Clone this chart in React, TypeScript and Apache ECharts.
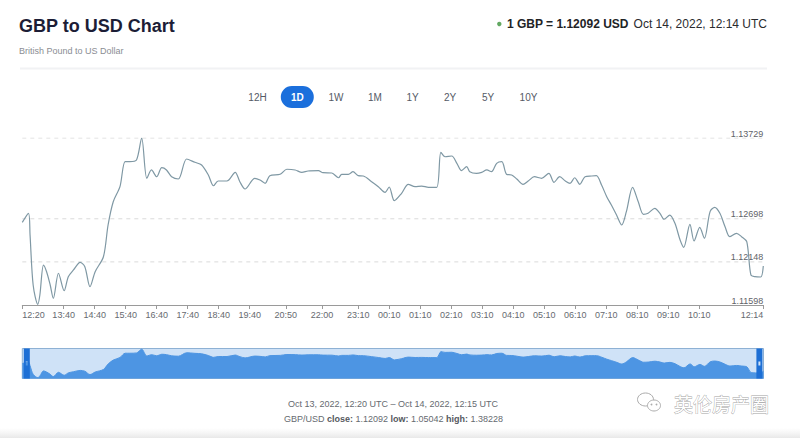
import React, { useEffect, useRef } from "react";
import * as echarts from "echarts";

// ---------- data ----------
const pointTimes = [
  "12:20","12:32","12:35","12:41","12:50","12:54","13:01","13:07","13:14","13:20",
  "13:30","13:41","13:49","13:59","14:12","14:21","14:31","14:41","14:57","15:06",
  "15:16","15:29","15:39","15:48","16:01","16:11","16:21","16:30","16:40","16:50",
  "16:59","17:09","17:22","17:38","17:54","18:07","18:20","18:30","18:39","18:56",
  "19:12","19:21","19:31","19:50","20:00","20:10","20:19","20:39","20:52","21:08",
  "21:21","21:33","21:53","22:02","22:19","22:32","22:38","22:51","23:00","23:10",
  "23:20","23:36","23:49","00:02","00:10","00:20","00:34","00:47","01:00","01:13",
  "01:26","01:42","01:50","01:58","02:11","02:21","02:30","02:40","02:46","02:59",
  "03:09","03:19","03:28","03:38","03:48","03:57","04:07","04:17","04:29","04:39",
  "04:51","05:05","05:19","05:29","05:40","05:51","06:00","06:09","06:19","06:29",
  "06:42","06:51","07:01","07:11","07:20","07:30","07:40","07:49","08:01","08:12",
  "08:22","08:31","08:44","08:54","09:02","09:13","09:23","09:33","09:40","09:52",
  "10:00","10:11","10:20","10:31","10:40","10:50","11:00","11:09","11:22","11:32",
  "11:42","11:50","11:58","12:09","12:14"
];
const pointRates = [
  1.12653,1.12768,1.12491,1.11853,1.11607,1.11726,1.12108,1.12023,1.11853,1.11683,
  1.12003,1.11780,1.11959,1.12045,1.12143,1.12087,1.11832,1.12023,1.12214,1.12619,
  1.12916,1.13108,1.13427,1.13427,1.13448,1.13729,1.13215,1.13321,1.13235,1.13350,
  1.13321,1.13235,1.13206,1.13461,1.13419,1.13384,1.13257,1.13120,1.13180,1.13180,
  1.13291,1.13171,1.13078,1.13215,1.13193,1.13151,1.13248,1.13266,1.13330,1.13321,
  1.13291,1.13308,1.13312,1.13286,1.13282,1.13222,1.13266,1.13266,1.13299,1.13248,
  1.13244,1.13171,1.13108,1.13036,1.13104,1.12929,1.13023,1.13138,1.13108,1.13116,
  1.13100,1.13100,1.13546,1.13490,1.13499,1.13406,1.13312,1.13363,1.13299,1.13278,
  1.13291,1.13321,1.13299,1.13406,1.13427,1.13266,1.13257,1.13206,1.13138,1.13180,
  1.13235,1.13215,1.13278,1.13164,1.13235,1.13180,1.13151,1.13222,1.13138,1.13235,
  1.13244,1.13248,1.13129,1.12980,1.12874,1.12746,1.12619,1.12789,1.13100,1.12916,
  1.12755,1.12768,1.12832,1.12768,1.12692,1.12746,1.12640,1.12427,1.12334,1.12628,
  1.12415,1.12589,1.12449,1.12789,1.12845,1.12768,1.12597,1.12470,1.12513,1.12470,
  1.12406,1.11981,1.11959,1.11955,1.12096
];
const xTickLabels = [
  "12:20","13:40","14:40","15:40","16:40","17:40","18:40","19:40","20:50","22:00",
  "23:10","00:10","01:10","02:10","03:10","04:10","05:10","06:10","07:10","08:10",
  "09:10","10:10","12:14"
];
const yTickValues = [1.11598, 1.12148, 1.12698, 1.13729];
const periodButtons = ["12H", "1D", "1W", "1M", "1Y", "2Y", "5Y", "10Y"];
const activePeriod = "1D";
const titleText = "GBP to USD Chart";
const subtitleText = "British Pound to US Dollar";
const quoteText = "1 GBP = 1.12092 USD";
const quoteTime = "Oct 14, 2022, 12:14 UTC";
const rangeText = "Oct 13, 2022, 12:20 UTC \u2013 Oct 14, 2022, 12:15 UTC";
const statsText = "GBP/USD {b|close:} 1.12092 {b|low:} 1.05042 {b|high:} 1.38228";
const watermarkText = "英伦房产圈";

// ---------- helpers ----------
const START_MIN = 12 * 60 + 20;
function toMinutes(t: string): number {
  const [h, m] = t.split(":").map(Number);
  let v = h * 60 + m - START_MIN;
  if (v < 0) v += 1440;
  return v;
}
const seriesData = pointTimes.map((t, i) => [toMinutes(t), pointRates[i]]);
const xTickValues = xTickLabels.map(toMinutes);
const xMax = toMinutes(pointTimes[pointTimes.length - 1]);

// ---------- layout ----------
const FONT = '"Liberation Sans", Arial, Helvetica, sans-serif';
const buttonCenters = [257.5, 297.3, 336, 375, 412.5, 450, 488, 528.5];
const plot = { left: 22.3, right: 36.7, top: 138, height: 167 };
const mini = { left: 22.3, right: 36.5, top: 348.5, height: 30 };

export default function App() {
  const ref = useRef<HTMLDivElement>(null);

  useEffect(() => {
    const chart = echarts.init(ref.current!, null, { renderer: "svg" });

    const buttons: any[] = [];
    periodButtons.forEach((label, i) => {
      const cx = buttonCenters[i];
      const active = label === activePeriod;
      if (active) {
        buttons.push({
          type: "rect",
          shape: { x: cx - 16.5, y: 86, width: 33, height: 22, r: 11 },
          style: { fill: "#1b6fdc" },
        });
      }
      buttons.push({
        type: "text",
        x: cx,
        y: 97,
        style: {
          text: label,
          font: `${active ? "bold " : ""}10px ${FONT}`,
          fill: active ? "#ffffff" : "#555a66",
          textAlign: "center",
          textVerticalAlign: "middle",
        },
      });
    });

    const gridLineSeries = yTickValues.slice(1).map((v) => ({
      type: "line",
      xAxisIndex: 0,
      yAxisIndex: 0,
      data: [
        [0, v],
        [xMax, v],
      ],
      symbol: "none",
      silent: true,
      lineStyle: { type: [4, 4], color: "#dadada", width: 1 },
      z: 1,
    }));

    const option: any = {
      animation: false,
      backgroundColor: "#ffffff",
      textStyle: { fontFamily: FONT },
      grid: [
        {
          left: plot.left,
          right: plot.right,
          top: plot.top,
          height: plot.height,
          containLabel: false,
          outerBoundsMode: "none",
        },
        {
          left: mini.left,
          right: mini.right,
          top: mini.top,
          height: mini.height,
          show: true,
          backgroundColor: "#cfe2f7",
          borderColor: "#8eb1d4",
          borderWidth: 1,
          containLabel: false,
          outerBoundsMode: "none",
        },
      ],
      xAxis: [
        {
          type: "value",
          gridIndex: 0,
          min: 0,
          max: xMax,
          axisLine: { show: true, lineStyle: { color: "#9a9a9a", width: 1 } },
          axisTick: {
            show: true,
            length: 4,
            customValues: xTickValues,
            lineStyle: { color: "#9a9a9a" },
          },
          splitLine: { show: false },
          axisLabel: {
            customValues: xTickValues,
            formatter: (v: number) => {
              const idx = xTickValues.indexOf(Math.round(v));
              return idx >= 0 ? xTickLabels[idx] : "";
            },
            color: "#666a70",
            fontSize: 9,
            margin: 5,
            alignMinLabel: "left",
            alignMaxLabel: "right",
            showMinLabel: true,
            showMaxLabel: true,
          },
        },
        {
          type: "value",
          gridIndex: 1,
          min: 0,
          max: xMax,
          show: false,
          splitLine: { show: false },
        },
      ],
      yAxis: [
        {
          type: "value",
          gridIndex: 0,
          position: "right",
          min: yTickValues[0],
          max: yTickValues[yTickValues.length - 1],
          axisLine: { show: false },
          axisTick: { show: false },
          splitLine: { show: false },
          splitArea: { show: false },
          axisLabel: {
            inside: true,
            customValues: yTickValues,
            formatter: (v: number) => v.toFixed(5),
            verticalAlign: "bottom",
            margin: 0,
            color: "#5f6368",
            fontSize: 9,
          },
        },
        {
          type: "value",
          gridIndex: 1,
          min: 1.1154,
          max: 1.1378,
          show: false,
          splitLine: { show: false },
        },
      ],
      dataZoom: [
        {
          type: "slider",
          xAxisIndex: 0,
          start: 0,
          end: 100,
          left: mini.left + 3.3,
          right: mini.right + 3.3,
          top: mini.top,
          height: mini.height,
          showDataShadow: false,
          showDetail: false,
          brushSelect: false,
          moveHandleSize: 0,
          backgroundColor: "rgba(0,0,0,0)",
          borderColor: "rgba(0,0,0,0)",
          fillerColor: "rgba(0,0,0,0)",
          handleIcon: "path://M0,0H6V30H0Z M2,13V17H4V13Z",
          handleSize: "100%",
          handleStyle: { color: "#1d6fd5", borderColor: "#1d6fd5", borderWidth: 0 },
          emphasis: { handleStyle: { color: "#1d6fd5", borderColor: "#1d6fd5" } },
        },
      ],
      series: [
        ...gridLineSeries,
        {
          type: "line",
          xAxisIndex: 0,
          yAxisIndex: 0,
          data: seriesData,
          smooth: 0.3,
          symbol: "none",
          lineStyle: { color: "#7f98a4", width: 1.2 },
          z: 3,
        },
        {
          type: "line",
          xAxisIndex: 1,
          yAxisIndex: 1,
          data: seriesData,
          smooth: 0.3,
          symbol: "none",
          lineStyle: { color: "#4d95e3", width: 1 },
          areaStyle: { color: "#4d95e3", opacity: 1 },
        },
      ],
      graphic: [
        {
          type: "text",
          x: 19,
          y: 25.5,
          style: {
            text: titleText,
            font: `bold 18px ${FONT}`,
            fill: "#1c1d36",
            textVerticalAlign: "middle",
          },
        },
        {
          type: "text",
          x: 19,
          y: 50.5,
          style: {
            text: subtitleText,
            font: `9px ${FONT}`,
            fill: "#8a8d93",
            textVerticalAlign: "middle",
          },
        },
        {
          type: "circle",
          shape: { cx: 499.3, cy: 24, r: 2.2 },
          style: { fill: "#62a862" },
        },
        {
          type: "text",
          x: 628.5,
          y: 24,
          style: {
            text: quoteText,
            font: `bold 12px ${FONT}`,
            fill: "#222326",
            textAlign: "right",
            textVerticalAlign: "middle",
          },
        },
        {
          type: "text",
          x: 767,
          y: 24,
          style: {
            text: quoteTime,
            font: `12px ${FONT}`,
            fill: "#2a2b2e",
            textAlign: "right",
            textVerticalAlign: "middle",
          },
        },
        {
          type: "line",
          shape: { x1: 20, y1: 68.5, x2: 767, y2: 68.5 },
          style: { stroke: "#f1f2f4", lineWidth: 2 },
        },
        ...buttons,
        {
          type: "text",
          x: 393,
          y: 404,
          style: {
            text: rangeText,
            font: `9px ${FONT}`,
            fill: "#666a70",
            textAlign: "center",
            textVerticalAlign: "middle",
          },
        },
        {
          type: "text",
          x: 393.5,
          y: 419,
          style: {
            text: statsText,
            font: `9px ${FONT}`,
            fontSize: 9,
            fontFamily: FONT,
            fill: "#666a70",
            textAlign: "center",
            textVerticalAlign: "middle",
            rich: {
              b: {
                fontSize: 9,
                fontFamily: FONT,
                fontWeight: "bold",
                fill: "#555960",
              },
            },
          },
        },
        // watermark icon (two speech bubbles)
        {
          type: "ellipse",
          shape: { cx: 645.5, cy: 399.5, rx: 8, ry: 6.5 },
          style: { fill: "#ffffff", stroke: "#ababab", lineWidth: 1 },
        },
        {
          type: "ellipse",
          shape: { cx: 654, cy: 405.5, rx: 6.5, ry: 5.5 },
          style: { fill: "#ffffff", stroke: "#ababab", lineWidth: 1 },
        },
        {
          type: "circle",
          shape: { cx: 651.5, cy: 404.5, r: 0.9 },
          style: { fill: "#ababab" },
        },
        {
          type: "circle",
          shape: { cx: 656.5, cy: 404.5, r: 0.9 },
          style: { fill: "#ababab" },
        },
        {
          type: "text",
          x: 674,
          y: 403,
          style: {
            text: watermarkText,
            font: `19px "Noto Sans CJK SC", sans-serif`,
            fill: "#ffffff",
            stroke: "#a3a3a3",
            lineWidth: 0.8,
            textVerticalAlign: "middle",
          },
        },
        {
          type: "rect",
          shape: { x: 0, y: 428, width: 800, height: 10 },
          style: {
            fill: new echarts.graphic.LinearGradient(0, 0, 0, 1, [
              { offset: 0, color: "rgba(238,238,238,0)" },
              { offset: 1, color: "rgba(232,232,232,1)" },
            ]),
          },
          z: -1,
        },
      ],
    };

    chart.setOption(option);
    return () => chart.dispose();
  }, []);

  return (
    <div
      ref={ref}
      style={{
        position: "fixed",
        left: 0,
        top: 0,
        width: 800,
        height: 438,
        background: "#ffffff",
      }}
    />
  );
}
